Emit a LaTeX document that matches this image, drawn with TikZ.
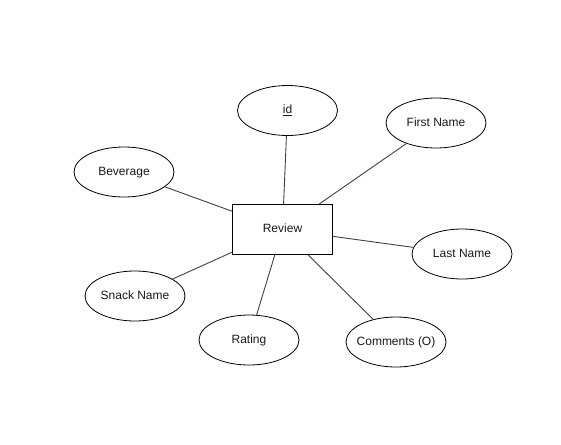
\documentclass[tikz,border=0pt]{standalone}
\usepackage{fontspec}
\setmainfont{Liberation Sans}
\usetikzlibrary{shapes.geometric}
\newcommand\zb[1]{\makebox[0pt]{#1}}
\begin{document}
\begin{tikzpicture}[x=1pt,y=-1pt,
  attr/.style={ellipse,draw=black,line width=0.8pt,fill=white,minimum width=100pt,minimum height=50pt,inner sep=0pt,text height=8.5pt,text depth=2.5pt,font=\fontsize{12pt}{14pt}\selectfont,text=black!90},
  entity/.style={rectangle,draw=black,line width=0.9pt,fill=white,minimum width=100pt,minimum height=50pt,inner sep=0pt,text height=8.5pt,text depth=2.5pt,font=\fontsize{12pt}{14pt}\selectfont,text=black!90},
  link/.style={draw=black!75,line width=0.9pt}]
\useasboundingbox (0,0) rectangle (561,444);
\node[entity] (rev) at (282.5,229.5) {Review};
\node[attr] (id) at (287.5,110.5) {\zb{\underline{id}}};
\node[attr] (first) at (436,123) {\zb{First Name}};
\node[attr] (bev) at (124,172) {\zb{Beverage}};
\node[attr] (last) at (462,254) {\zb{Last Name}};
\node[attr] (snack) at (135,296) {\zb{Snack Name}};
\node[attr] (rating) at (249,340) {\zb{Rating}};
\node[attr] (comm) at (396,342) {\zb{Comments (O)}};
\draw[link] (id) -- (rev);
\draw[link] (first) -- (rev);
\draw[link] (bev) -- (rev);
\draw[link] (last) -- (rev);
\draw[link] (snack) -- (rev);
\draw[link] (rating) -- (rev);
\draw[link] (comm) -- (rev);
\end{tikzpicture}
\end{document}
